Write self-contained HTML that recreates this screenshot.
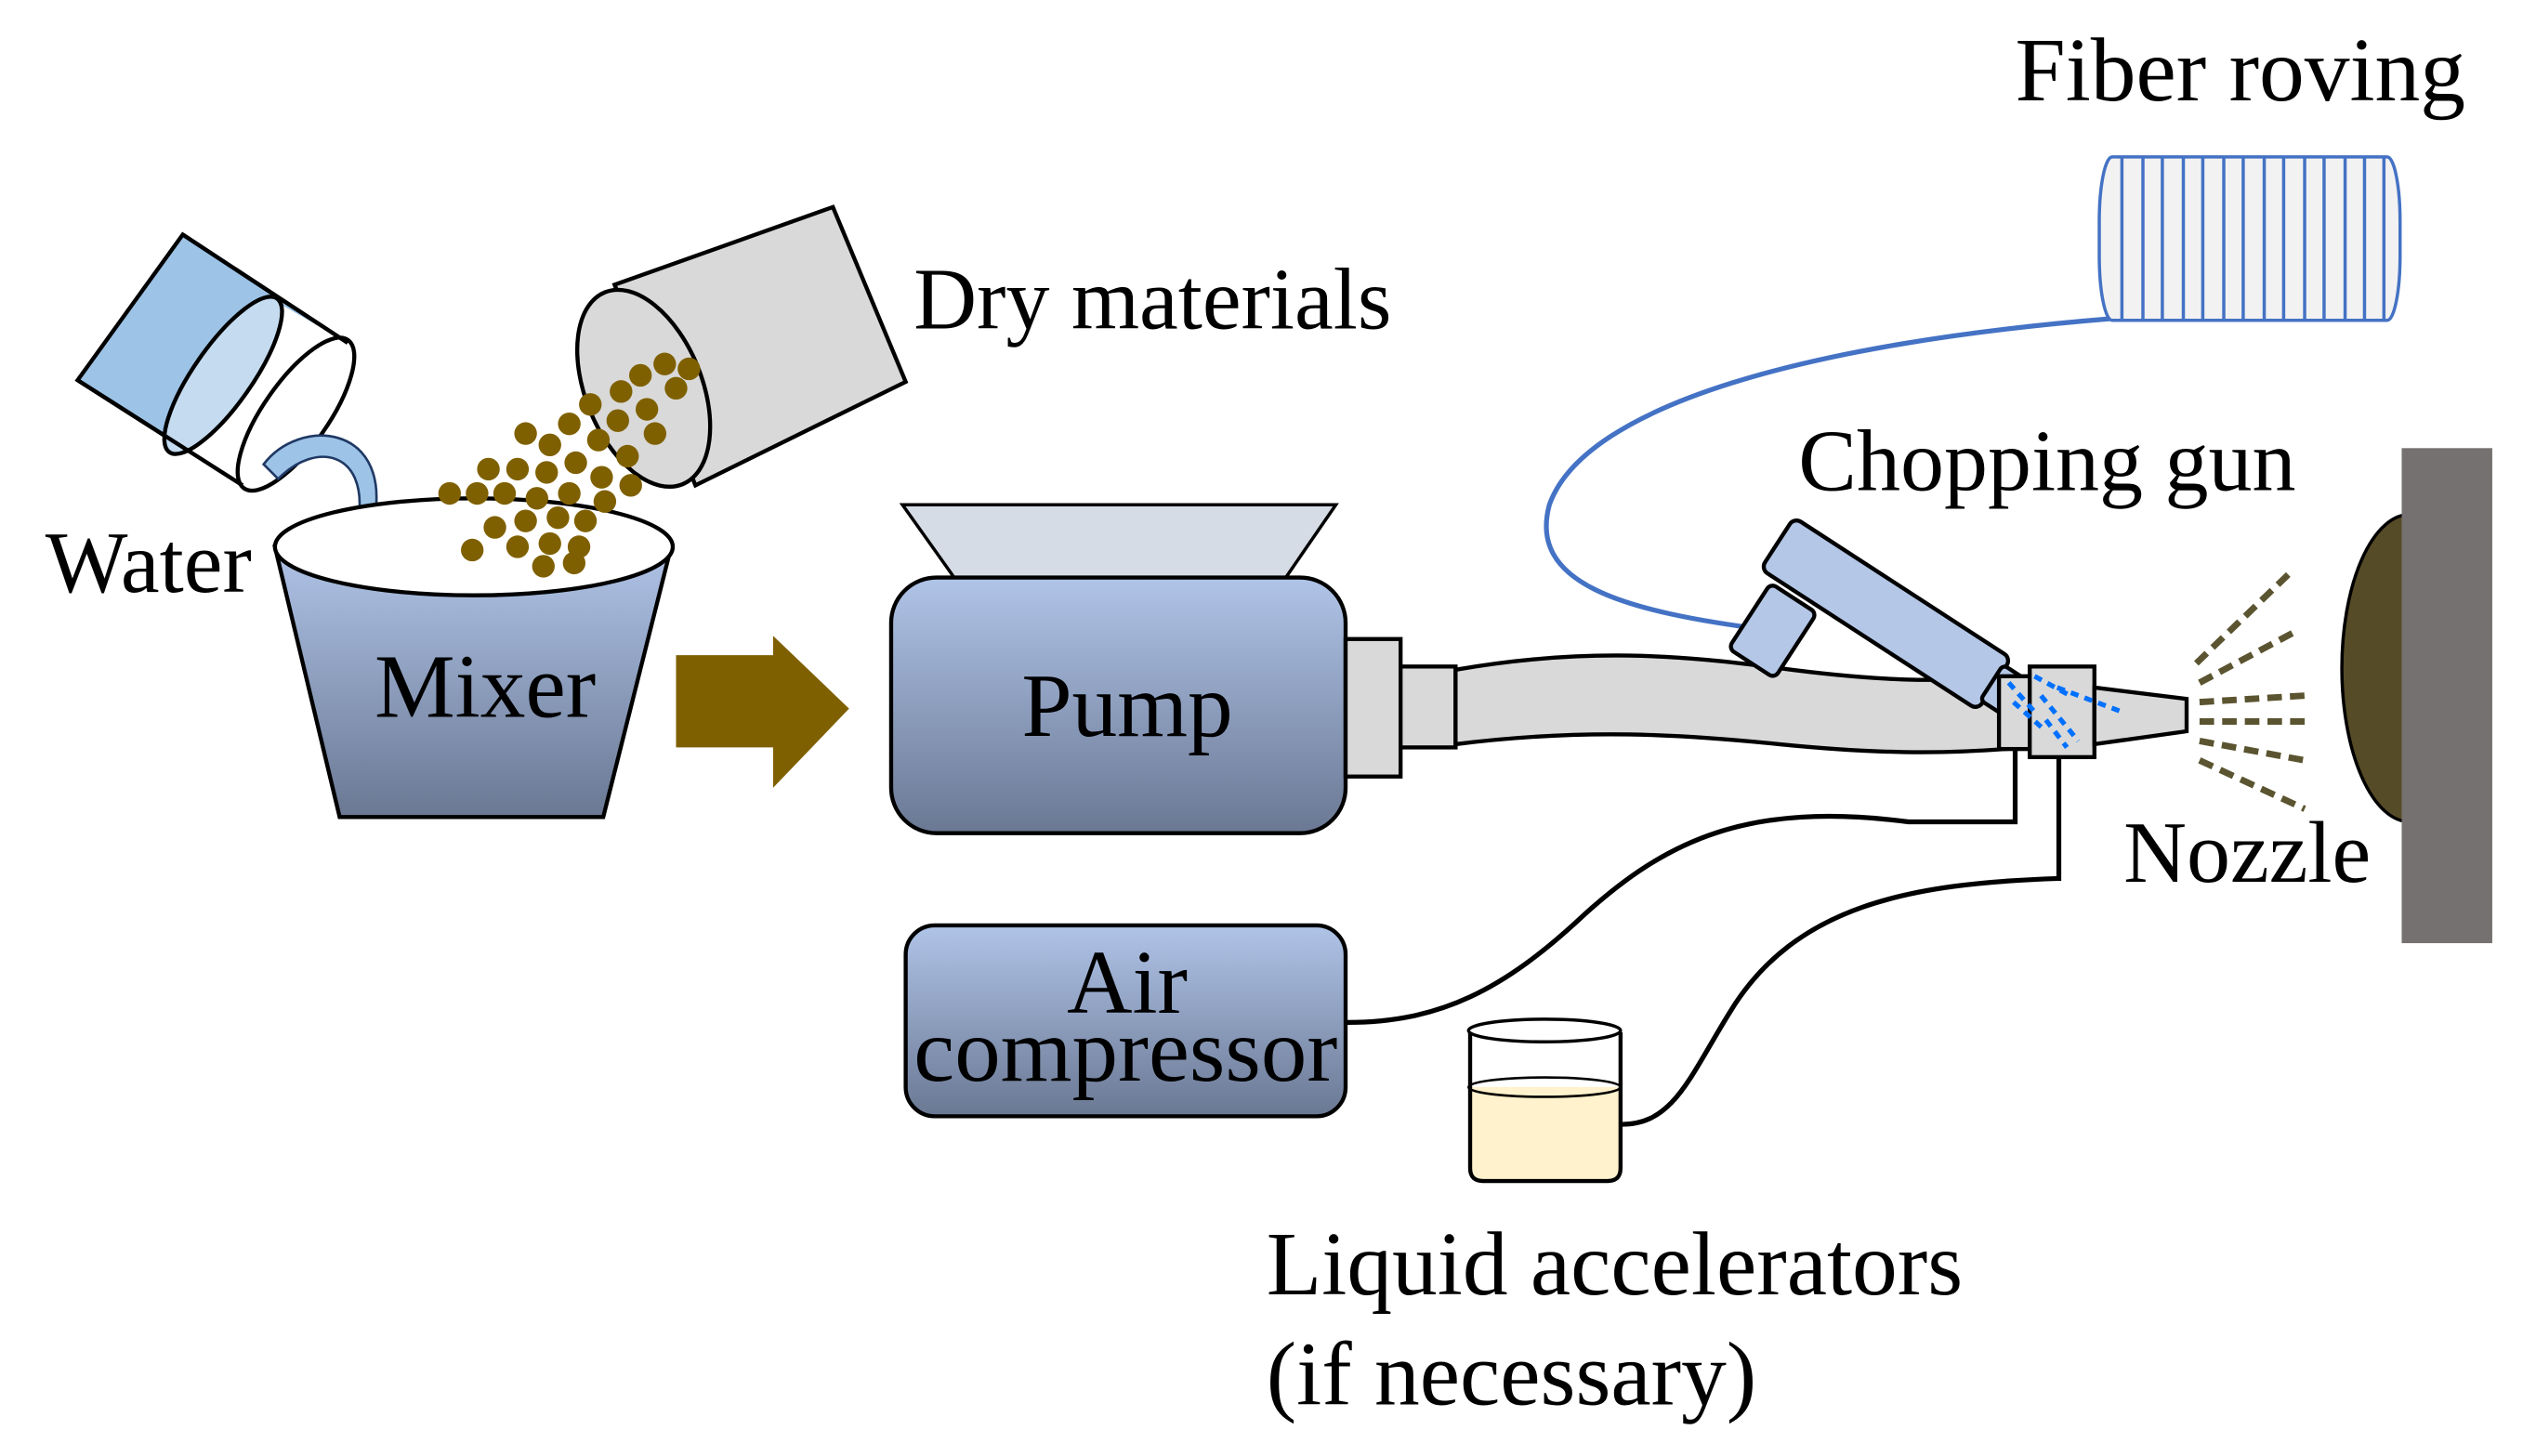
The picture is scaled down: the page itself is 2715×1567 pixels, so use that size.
<!DOCTYPE html>
<html><head><meta charset="utf-8"><style>
html,body{margin:0;padding:0;background:#fff;}
svg{display:block;}
text{font-family:"Liberation Serif",serif;fill:#000;}
</style></head><body>
<svg width="2715" height="1567" viewBox="0 0 1560 900" preserveAspectRatio="none" xmlns="http://www.w3.org/2000/svg">
<defs>
<linearGradient id="g" x1="0" y1="0" x2="0" y2="1">
<stop offset="0" stop-color="#b0c4e8"/><stop offset="1" stop-color="#6a7893"/>
</linearGradient>
</defs>
<rect width="1560" height="900" fill="#fff"/>

<!-- Water bucket -->
<g stroke="#000" stroke-width="2.5">
<path d="M113,145 L215,212 L150,300 L48,235 Z" fill="#9dc3e6"/>
<path d="M170,186 L215,212 L150,300 L105,275 Z" fill="#fff" stroke="none"/>
<ellipse cx="138" cy="232" rx="18" ry="58" transform="rotate(35 138 232)" fill="#c5dcf0"/>
<ellipse cx="183" cy="256" rx="20" ry="56" transform="rotate(35 183 256)" fill="#fff"/>
<line x1="113" y1="145" x2="215" y2="212"/>
<line x1="48" y1="235" x2="150" y2="300"/>
</g>
<path d="M163,287 C185,258 240,262 232,318 L240,318 L222,332 L213,318 L222,318 C226,280 196,272 172,296 Z" fill="#9dc3e6" stroke="#1f3864" stroke-width="1.5"/>

<!-- Mixer -->
<path d="M170,338 L415,338 L373,505 L210,505 Z" fill="url(#g)" stroke="#000" stroke-width="2.5"/>
<ellipse cx="293" cy="338" rx="123" ry="30" fill="#fff" stroke="#000" stroke-width="2.5"/>
<text x="300" y="443" font-size="56" text-anchor="middle">Mixer</text>
<text x="28" y="366" font-size="54">Water</text>

<!-- Dry materials -->
<g stroke="#000" stroke-width="2.5">
<path d="M380,176 L515,128 L560,236 L430,300 Z" fill="#d9d9d9"/>
<ellipse cx="398" cy="240" rx="36" ry="64" transform="rotate(-22 398 240)" fill="#d9d9d9"/>
</g>
<g fill="#7f6000">
<circle cx="411" cy="225" r="7"/><circle cx="426" cy="228" r="7"/><circle cx="396" cy="232" r="7"/><circle cx="384" cy="242" r="7"/>
<circle cx="418" cy="240" r="7"/><circle cx="400" cy="253" r="7"/><circle cx="382" cy="260" r="7"/><circle cx="365" cy="250" r="7"/>
<circle cx="405" cy="268" r="7"/><circle cx="352" cy="262" r="7"/><circle cx="370" cy="272" r="7"/><circle cx="388" cy="282" r="7"/>
<circle cx="340" cy="275" r="7"/><circle cx="325" cy="268" r="7"/><circle cx="356" cy="286" r="7"/><circle cx="372" cy="295" r="7"/>
<circle cx="338" cy="292" r="7"/><circle cx="320" cy="290" r="7"/><circle cx="302" cy="290" r="7"/><circle cx="352" cy="305" r="7"/>
<circle cx="332" cy="308" r="7"/><circle cx="312" cy="305" r="7"/><circle cx="295" cy="305" r="7"/><circle cx="278" cy="305" r="7"/>
<circle cx="345" cy="320" r="7"/><circle cx="325" cy="322" r="7"/><circle cx="362" cy="322" r="7"/><circle cx="306" cy="326" r="7"/>
<circle cx="340" cy="336" r="7"/><circle cx="320" cy="338" r="7"/><circle cx="358" cy="338" r="7"/><circle cx="292" cy="340" r="7"/>
<circle cx="336" cy="350" r="7"/><circle cx="355" cy="348" r="7"/><circle cx="374" cy="310" r="7"/><circle cx="390" cy="300" r="7"/>
</g>
<text x="565" y="203" font-size="54">Dry materials</text>

<!-- big arrow -->
<path d="M418,405 L478,405 L478,393 L525,438 L478,487 L478,462 L418,462 Z" fill="#7f6000"/>

<!-- Pump -->
<path d="M558,312 L826,312 L795,357 L590,357 Z" fill="#d6dce5" stroke="#000" stroke-width="2"/>
<rect x="551" y="357" width="281" height="158" rx="28" fill="url(#g)" stroke="#000" stroke-width="2.5"/>
<text x="697" y="455" font-size="56" text-anchor="middle">Pump</text>
<rect x="832" y="395" width="34" height="85" fill="#d9d9d9" stroke="#000" stroke-width="2.5"/>
<rect x="866" y="412" width="34" height="50" fill="#d9d9d9" stroke="#000" stroke-width="2.5"/>

<!-- hose -->
<path d="M900,414 C980,400 1040,405 1100,413 C1160,421 1200,422 1240,418 L1240,463 C1200,466 1160,466 1100,460 C1040,454 980,450 900,460 Z" fill="#d9d9d9" stroke="#000" stroke-width="2.5"/>

<!-- fiber line -->
<path d="M1305,197 C1120,212 980,250 958,312 C945,360 1000,378 1098,390" fill="none" stroke="#4472c4" stroke-width="3"/>
<!-- fiber roving -->
<rect x="1298" y="97" width="186" height="101" rx="8" ry="40" fill="#f2f2f2" stroke="#4472c4" stroke-width="2"/>
<g stroke="#4472c4" stroke-width="2">
<line x1="1312" y1="97" x2="1312" y2="198"/><line x1="1325" y1="97" x2="1325" y2="198"/><line x1="1337" y1="97" x2="1337" y2="198"/>
<line x1="1350" y1="97" x2="1350" y2="198"/><line x1="1362" y1="97" x2="1362" y2="198"/><line x1="1375" y1="97" x2="1375" y2="198"/>
<line x1="1387" y1="97" x2="1387" y2="198"/><line x1="1400" y1="97" x2="1400" y2="198"/><line x1="1412" y1="97" x2="1412" y2="198"/>
<line x1="1425" y1="97" x2="1425" y2="198"/><line x1="1437" y1="97" x2="1437" y2="198"/><line x1="1450" y1="97" x2="1450" y2="198"/>
<line x1="1462" y1="97" x2="1462" y2="198"/><line x1="1474" y1="97" x2="1474" y2="198"/>
</g>
<text x="1246" y="62" font-size="56">Fiber roving</text>

<!-- chopping gun -->
<g stroke="#000" stroke-width="2.5" fill="#b4c7e7" stroke-linejoin="round">
<g transform="translate(1093,345) rotate(33)">
<rect x="10" y="12" width="34" height="48" rx="4"/>
<rect x="0" y="-30" width="160" height="38" rx="5"/>
<rect x="158" y="-24" width="22" height="26" rx="3"/>
</g>
</g>
<text x="1112" y="303" font-size="54">Chopping gun</text>

<!-- nozzle blocks -->
<rect x="1236" y="418" width="20" height="45" fill="#d9d9d9" stroke="#000" stroke-width="2.5"/>
<rect x="1255" y="412" width="40" height="56" fill="#d9d9d9" stroke="#000" stroke-width="2.5"/>
<path d="M1295,425 L1352,432 L1352,452 L1295,460 Z" fill="#d9d9d9" stroke="#000" stroke-width="2.5"/>
<g stroke="#0070ff" stroke-width="3" stroke-dasharray="5,4">
<line x1="1242" y1="422" x2="1258" y2="440"/><line x1="1245" y1="434" x2="1265" y2="452"/>
<line x1="1258" y1="418" x2="1280" y2="430"/><line x1="1262" y1="430" x2="1285" y2="458"/>
<line x1="1272" y1="425" x2="1312" y2="440"/><line x1="1265" y1="445" x2="1278" y2="462"/>
</g>

<!-- spray -->
<g stroke="#5b5430" stroke-width="4" stroke-dasharray="9,5" fill="none">
<line x1="1358" y1="410" x2="1415" y2="355"/>
<line x1="1360" y1="422" x2="1420" y2="390"/>
<line x1="1360" y1="434" x2="1425" y2="430"/>
<line x1="1360" y1="446" x2="1425" y2="446"/>
<line x1="1360" y1="458" x2="1425" y2="470"/>
<line x1="1360" y1="470" x2="1425" y2="500"/>
</g>
<text x="1313" y="545" font-size="54">Nozzle</text>

<!-- wall -->
<ellipse cx="1490" cy="413" rx="42" ry="95" fill="#564b27" stroke="#000" stroke-width="2"/>
<rect x="1485" y="277" width="56" height="306" fill="#767171"/>

<!-- lines -->
<path d="M1246,463 V508 H1180 C1080,495 1030,520 980,565 C930,612 890,632 833,632" fill="none" stroke="#000" stroke-width="3"/>
<path d="M1273,468 V543 C1180,546 1110,560 1070,625 C1045,665 1035,695 1003,695" fill="none" stroke="#000" stroke-width="3"/>

<!-- air compressor -->
<rect x="560" y="572" width="272" height="118" rx="18" fill="url(#g)" stroke="#000" stroke-width="2.5"/>
<text x="697" y="626" font-size="56" text-anchor="middle">Air</text>
<text x="696" y="668" font-size="56" text-anchor="middle" textLength="262" lengthAdjust="spacingAndGlyphs">compressor</text>

<!-- beaker -->
<path d="M909,672 L1002,672 L1002,722 Q1002,730 994,730 L917,730 Q909,730 909,722 Z" fill="#fff2cc"/>
<path d="M909,638 L909,722 Q909,730 917,730 L994,730 Q1002,730 1002,722 L1002,638" fill="none" stroke="#000" stroke-width="2.5"/>
<ellipse cx="955" cy="637" rx="47" ry="7" fill="#fff" stroke="#000" stroke-width="2"/>
<ellipse cx="955" cy="672" rx="47" ry="6" fill="none" stroke="#000" stroke-width="1.5"/>

<text x="783" y="800" font-size="56">Liquid accelerators</text>
<text x="783" y="868" font-size="56">(if necessary)</text>
</svg>
</body></html>
